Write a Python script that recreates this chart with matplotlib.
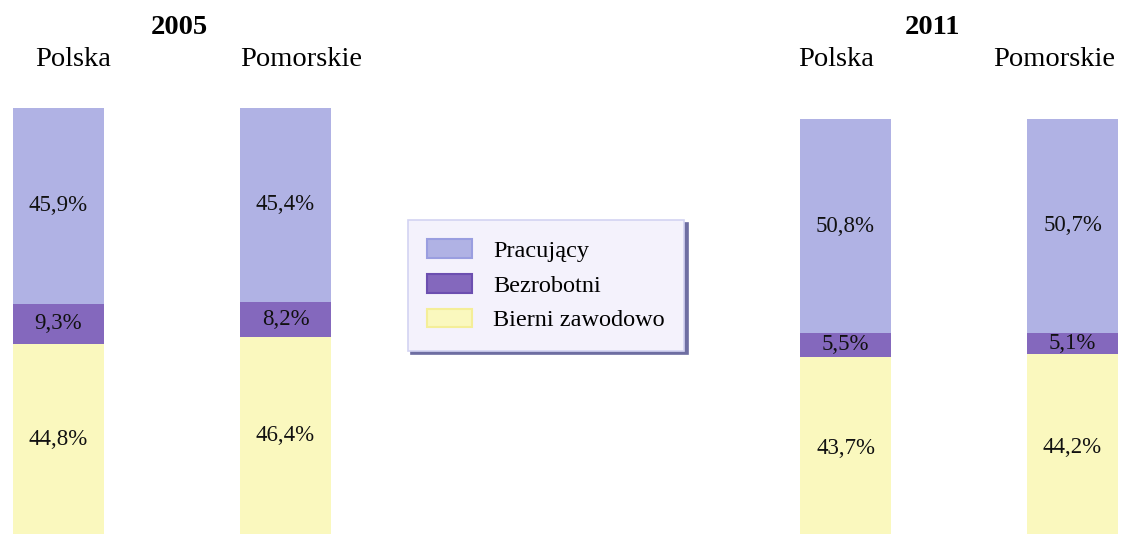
import numpy as np
import matplotlib
matplotlib.use("Agg")
import matplotlib.pyplot as plt
import matplotlib.patches as mpatches

plt.rcParams['font.family'] = ['Liberation Serif', 'DejaVu Serif']

years = ['2005', '2011']
regions = ['Polska', 'Pomorskie']
series = ['Pracujący', 'Bezrobotni', 'Bierni zawodowo']

pracujacy_2005 = [45.9, 45.4]
bezrobotni_2005 = [9.3, 8.2]
bierni_2005 = [44.8, 46.4]

pracujacy_2011 = [50.8, 50.7]
bezrobotni_2011 = [5.5, 5.1]
bierni_2011 = [43.7, 44.2]

colors = ['#B0B2E4', '#8468BD', '#FAF8BE']
edges = ['#9A9EE0', '#6C4FB0', '#F4EE98']

W, H = 1123, 534
fig = plt.figure(figsize=(W / 100, H / 100), dpi=100)

# axes placed in pixel terms (left, bottom, width, height)
ax05 = fig.add_axes([8.6 / W, -1 / H, 326.9 / W, 427 / H])
ax11 = fig.add_axes([795.6 / W, -7 / H, 326.9 / W, 422 / H])


def fmt(v):
    return f"{v:.1f}".replace('.', ',') + '%'


def draw(ax, prac, bezr, bier):
    x = np.arange(len(regions))
    bier = np.array(bier)
    bezr = np.array(bezr)
    prac = np.array(prac)
    stacks = [(bier, 0), (bezr, bier), (prac, bier + bezr)]
    order = [2, 1, 0]
    for (vals, bottom), ci in zip(stacks, order):
        bars = ax.bar(x, vals, 0.4, bottom=bottom, color=colors[ci],
                      edgecolor='none')
        for rect, v in zip(bars, vals):
            ax.text(rect.get_x() + rect.get_width() / 2,
                    rect.get_y() + rect.get_height() / 2, fmt(v),
                    ha='center', va='center', fontsize=16.5, color='#111111')
    ax.set_xlim(-0.22, 1.22)
    ax.set_ylim(0, 100)
    ax.axis('off')


draw(ax05, pracujacy_2005, bezrobotni_2005, bierni_2005)
draw(ax11, pracujacy_2011, bezrobotni_2011, bierni_2011)

# headers
fig.text(179 / W, 1 - 28 / H, years[0], ha='center', va='center',
         fontsize=20.5, fontweight='bold')
fig.text(73 / W, 1 - 60 / H, regions[0], ha='center', va='center', fontsize=20.5)
fig.text(301 / W, 1 - 60 / H, regions[1], ha='center', va='center', fontsize=20.5)
fig.text(933 / W, 1 - 28 / H, years[1], ha='center', va='center',
         fontsize=20.5, fontweight='bold')
fig.text(836 / W, 1 - 60 / H, regions[0], ha='center', va='center', fontsize=20.5)
fig.text(1054 / W, 1 - 60 / H, regions[1], ha='center', va='center', fontsize=20.5)

handles = [mpatches.Patch(facecolor=c, edgecolor=e, linewidth=1.5)
           for c, e in zip(colors, edges)]
leg = fig.legend(handles, series, loc='upper left',
                 bbox_to_anchor=(408 / W, 1 - 220 / H), borderaxespad=0,
                 fontsize=17.5, handlelength=1.85, handleheight=0.82,
                 handletextpad=0.86, borderpad=0.8, labelspacing=0.48,
                 fancybox=False, framealpha=1,
                 shadow={'ox': 2.5, 'oy': -2.5, 'color': '#6E6EA2', 'alpha': 1})
leg.get_frame().set_facecolor('#F4F2FC')
leg.get_frame().set_edgecolor('#D3D3F2')
leg.get_frame().set_linewidth(1.2)

fig.savefig('out.png', dpi=100)
